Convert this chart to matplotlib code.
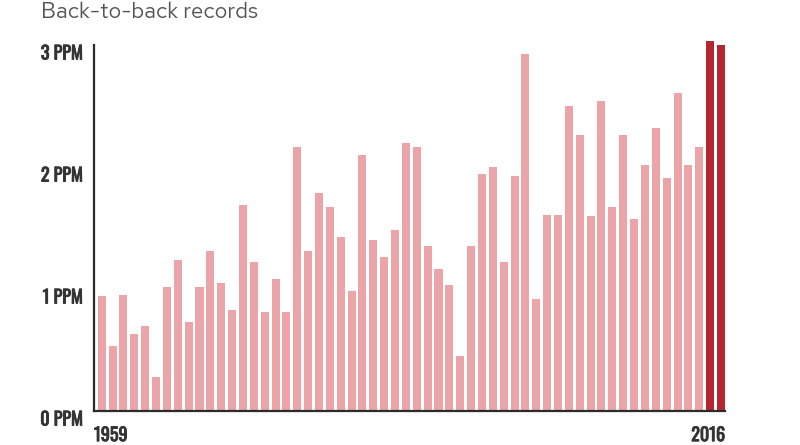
import numpy as np
import matplotlib.pyplot as plt
import matplotlib.patheffects as pe
from matplotlib.transforms import ScaledTranslation

# Annual CO2 growth at Mauna Loa (ppm per year)
years = list(range(1959, 2017))
growth = [0.94, 0.53, 0.95, 0.63, 0.70, 0.28, 1.02, 1.24, 0.73, 1.02,
          1.31, 1.05, 0.83, 1.69, 1.22, 0.81, 1.08, 0.81, 2.16, 1.31,
          1.79, 1.67, 1.43, 0.98, 2.10, 1.40, 1.26, 1.48, 2.20, 2.16,
          1.35, 1.16, 1.03, 0.45, 1.35, 1.94, 2.00, 1.22, 1.93, 2.93,
          0.92, 1.61, 1.61, 2.50, 2.26, 1.60, 2.54, 1.67, 2.26, 1.57,
          2.02, 2.32, 1.91, 2.61, 2.02, 2.16, 3.03, 3.00]
record_years = [2015, 2016]
ytick_vals = [0, 1, 2, 3]
ytick_text = ['0 PPM', '1 PPM', '2 PPM', '3 PPM']

light = '#eba5a8'
dark = '#b52633'
axis_col = '#2b2b2b'
text_col = '#333333'
label_font = ['Oswald', 'DejaVu Sans Condensed', 'DejaVu Sans']
title_font = ['Red Hat Text', 'Overpass', 'Open Sans', 'DejaVu Sans']
# Oswald here only has the regular weight, so thicken it with a stroke
heavy = [pe.withStroke(linewidth=0.65, foreground=text_col)]

fig = plt.figure(figsize=(8, 4.45), dpi=100)
ax = fig.add_axes([94 / 800, 1 - 411 / 445, (725 - 94) / 800, (411 - 32.8) / 445])

colors = [dark if y in record_years else light for y in years]
ax.bar(years, growth, width=0.74, color=colors, linewidth=0)

ax.set_xlim(1958.29, 2016.37)
ax.set_ylim(0, 3.1)

for side in ['top', 'right']:
    ax.spines[side].set_visible(False)
ax.spines['left'].set_bounds(0, 3)
for side in ['left', 'bottom']:
    ax.spines[side].set_color(axis_col)
    ax.spines[side].set_linewidth(1.6)

ax.set_yticks(ytick_vals)
ax.set_yticklabels(ytick_text, fontfamily=label_font, fontsize=13, color=text_col)
ax.tick_params(axis='y', length=0, pad=8)
shift = ScaledTranslation(0, -5 / 72, fig.dpi_scale_trans)
for lab in ax.get_yticklabels():
    lab.set_transform(lab.get_transform() + shift)
    lab.set_path_effects(heavy)

ax.set_xticks([])
ax.text(0, -0.04, str(years[0]), transform=ax.transAxes, ha='left', va='top',
        fontfamily=label_font, fontsize=13, color=text_col, path_effects=heavy)
ax.text(1, -0.04, str(years[-1]), transform=ax.transAxes, ha='right', va='top',
        fontfamily=label_font, fontsize=13, color=text_col, path_effects=heavy)

fig.text(41 / 800, 1 - 12 / 445, 'Back-to-back records', ha='left', va='center',
         fontfamily=title_font, fontsize=16, color='#555555')

plt.savefig('out.png', dpi=100)
plt.close()
